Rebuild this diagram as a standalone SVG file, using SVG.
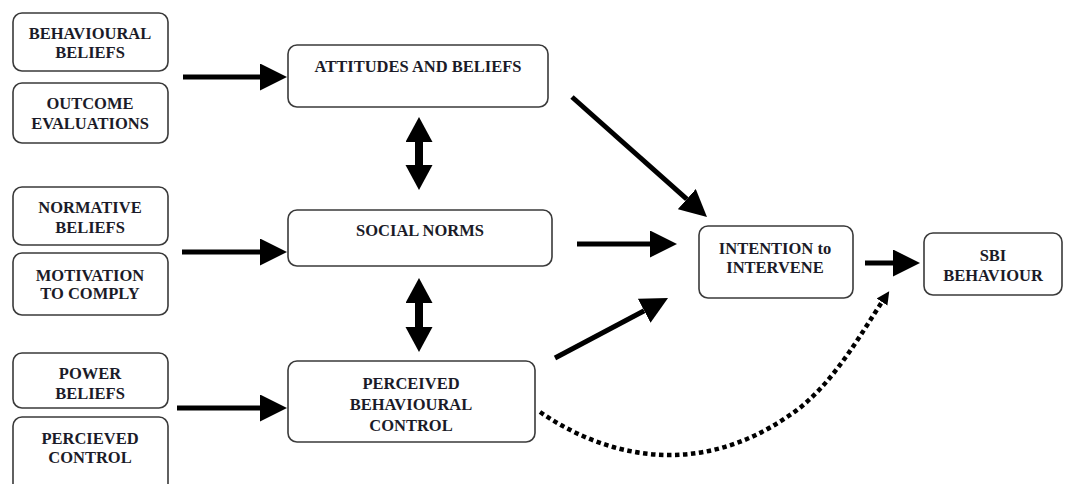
<svg xmlns="http://www.w3.org/2000/svg" width="1071" height="484" viewBox="0 0 1071 484">
  <defs>
    <style>
      .box { fill: #ffffff; stroke: #3a3a3a; stroke-width: 1.6; }
      .lbl { font-family: "Liberation Serif", "Times New Roman", serif; font-weight: bold; font-size: 16.5px; fill: #1b1b28; text-anchor: middle; }
      .solid { stroke: #000; stroke-width: 5; fill: none; }
      .dbl { stroke: #000; stroke-width: 8; fill: none; }
      .dotted { stroke: #000; stroke-width: 4.5; fill: none; stroke-dasharray: 4.5 3.5; }
    </style>
    <!-- large filled head; starts at the line end and extends 27px forward -->
    <marker id="head" markerUnits="userSpaceOnUse" markerWidth="28" markerHeight="28" refX="0" refY="13.5" orient="auto-start-reverse" viewBox="0 0 28 28">
      <path d="M0,0 L27,13.5 L0,27 Z" fill="#000"/>
    </marker>
    <!-- vertical two-way head -->
    <marker id="vhead" markerUnits="userSpaceOnUse" markerWidth="26" markerHeight="28" refX="0" refY="13.5" orient="auto-start-reverse" viewBox="0 0 26 28">
      <path d="M0,0 L25,13.5 L0,27 Z" fill="#000"/>
    </marker>
    <!-- small head for the dotted link -->
    <marker id="smallhead" markerUnits="userSpaceOnUse" markerWidth="14" markerHeight="14" refX="0" refY="6.5" orient="auto" viewBox="0 0 14 14">
      <path d="M0,0 L13,6.5 L0,13 Z" fill="#000"/>
    </marker>
  </defs>

  <rect width="1071" height="484" fill="#ffffff"/>

  <!-- belief inputs -->
  <g id="behavioural-beliefs">
    <rect class="box" x="13" y="13" width="155" height="58" rx="9"/>
    <text class="lbl" x="90" y="39">BEHAVIOURAL</text>
    <text class="lbl" x="90" y="58">BELIEFS</text>
  </g>
  <g id="outcome-evaluations">
    <rect class="box" x="13" y="83" width="155" height="60" rx="9"/>
    <text class="lbl" x="90" y="109">OUTCOME</text>
    <text class="lbl" x="90" y="129">EVALUATIONS</text>
  </g>
  <g id="normative-beliefs">
    <rect class="box" x="13" y="187" width="155" height="58" rx="9"/>
    <text class="lbl" x="90" y="213">NORMATIVE</text>
    <text class="lbl" x="90" y="233">BELIEFS</text>
  </g>
  <g id="motivation-to-comply">
    <rect class="box" x="13" y="253" width="155" height="62" rx="9"/>
    <text class="lbl" x="90" y="281">MOTIVATION</text>
    <text class="lbl" x="90" y="299">TO COMPLY</text>
  </g>
  <g id="power-beliefs">
    <rect class="box" x="13" y="353" width="155" height="55" rx="9"/>
    <text class="lbl" x="90" y="379">POWER</text>
    <text class="lbl" x="90" y="399">BELIEFS</text>
  </g>
  <g id="percieved-control">
    <rect class="box" x="13" y="417" width="155" height="76" rx="9"/>
    <text class="lbl" x="90" y="444">PERCIEVED</text>
    <text class="lbl" x="90" y="463">CONTROL</text>
  </g>

  <!-- central constructs -->
  <g id="attitudes-and-beliefs">
    <rect class="box" x="288" y="45" width="260" height="62" rx="9"/>
    <text class="lbl" x="418" y="72">ATTITUDES AND BELIEFS</text>
  </g>
  <g id="social-norms">
    <rect class="box" x="288" y="210" width="264" height="56" rx="9"/>
    <text class="lbl" x="420" y="236">SOCIAL NORMS</text>
  </g>
  <g id="perceived-behavioural-control">
    <rect class="box" x="288" y="361" width="247" height="81" rx="9"/>
    <text class="lbl" x="411" y="389">PERCEIVED</text>
    <text class="lbl" x="411" y="410">BEHAVIOURAL</text>
    <text class="lbl" x="411" y="431">CONTROL</text>
  </g>

  <!-- outcomes -->
  <g id="intention-to-intervene">
    <rect class="box" x="699" y="226" width="154" height="72" rx="9"/>
    <text class="lbl" x="775" y="254">INTENTION to</text>
    <text class="lbl" x="775" y="273">INTERVENE</text>
  </g>
  <g id="sbi-behaviour">
    <rect class="box" x="924" y="233" width="138" height="62" rx="9"/>
    <text class="lbl" x="993" y="261">SBI</text>
    <text class="lbl" x="993" y="281">BEHAVIOUR</text>
  </g>

  <!-- connectors -->
  <g id="connectors">
    <line class="solid" x1="183" y1="77" x2="260" y2="77" marker-end="url(#head)"/>
    <line class="solid" x1="182" y1="252" x2="260" y2="252" marker-end="url(#head)"/>
    <line class="solid" x1="177" y1="408" x2="260" y2="408" marker-end="url(#head)"/>

    <line class="dbl" x1="419" y1="142" x2="419" y2="165" marker-start="url(#vhead)" marker-end="url(#vhead)"/>
    <line class="dbl" x1="419" y1="303" x2="419" y2="327" marker-start="url(#vhead)" marker-end="url(#vhead)"/>

    <line class="solid" x1="572" y1="97" x2="686.8" y2="199.1" marker-end="url(#head)"/>
    <line class="solid" x1="577" y1="244" x2="650" y2="244" marker-end="url(#head)"/>
    <line class="solid" x1="555" y1="358" x2="644.2" y2="310.7" marker-end="url(#head)"/>

    <line class="solid" x1="865" y1="263" x2="893" y2="263" marker-end="url(#head)"/>

    <path class="dotted" d="M540,412 C610,460 700,476 787,417 C830,390 860,335 882,302" marker-end="url(#smallhead)"/>
  </g>
</svg>
